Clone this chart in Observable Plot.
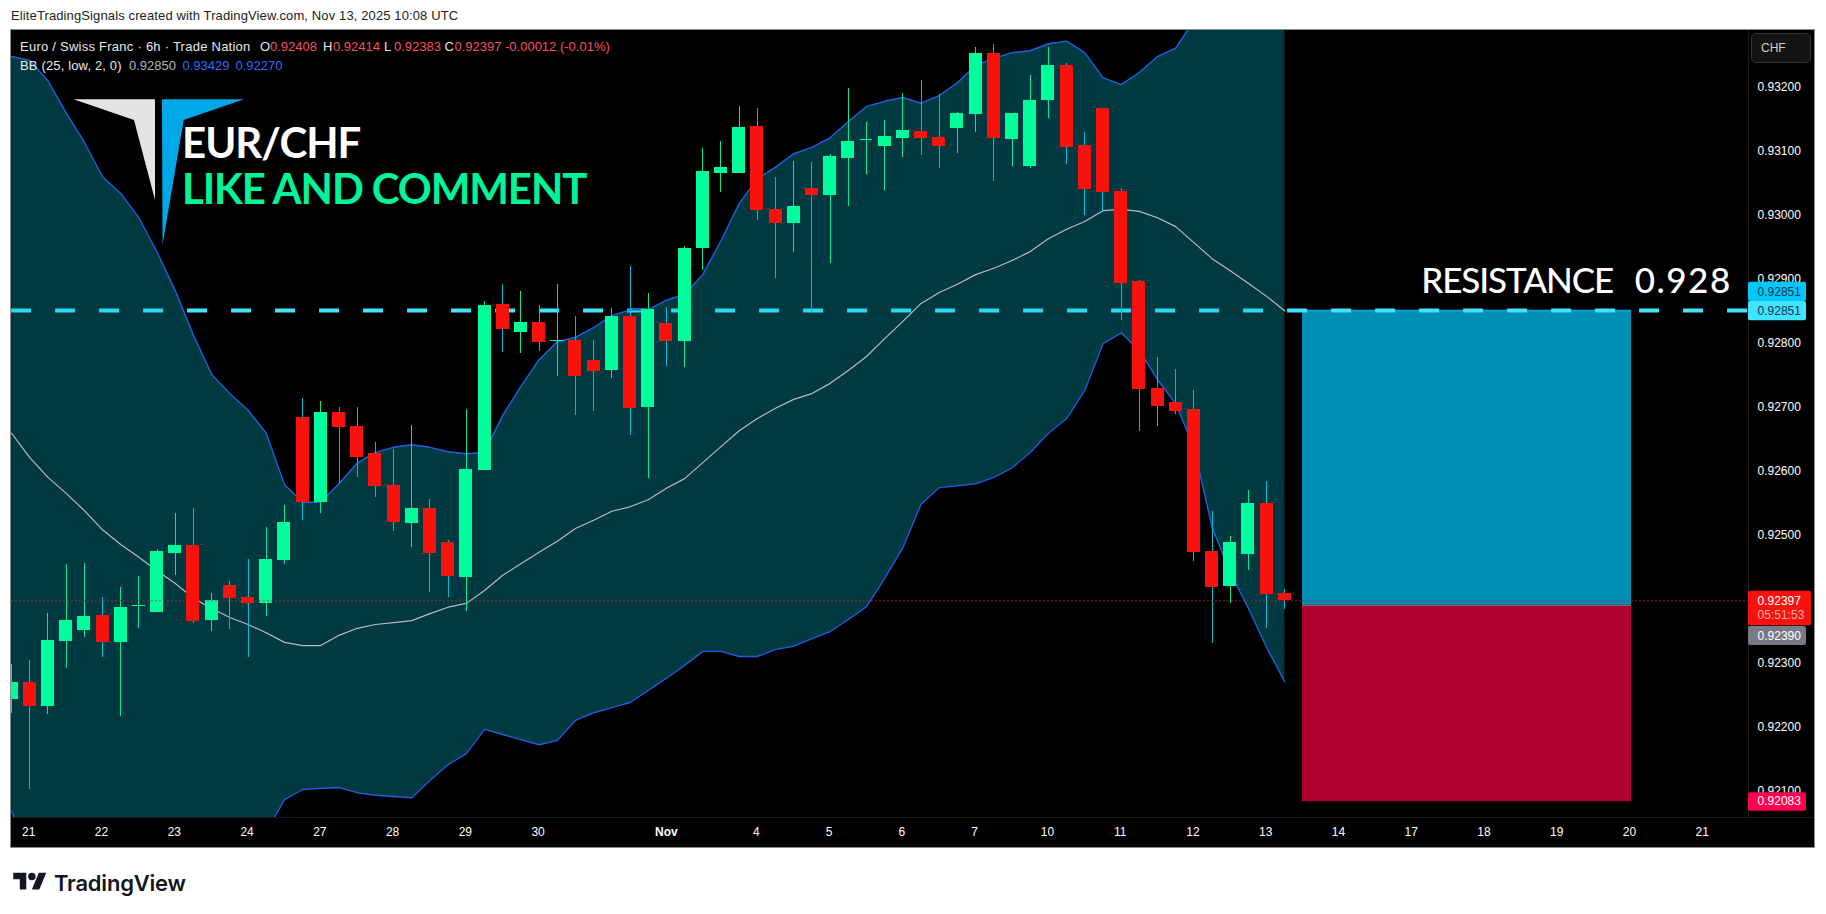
<!DOCTYPE html>
<html>
<head>
<meta charset="utf-8">
<script src="https://cdn.jsdelivr.net/npm/d3@7"></script>
<script src="https://cdn.jsdelivr.net/npm/@observablehq/plot@0.6"></script>
<style>
html,body{margin:0;padding:0;background:#fff;width:1826px;height:914px;overflow:hidden;font-family:"Liberation Sans",sans-serif}
#page{position:relative;width:1826px;height:914px}
.abs{position:absolute;white-space:pre;line-height:1}
#chart{position:absolute;left:11px;top:30px;width:1803px;height:817px;outline:1px solid #8c8c8c}
#chart svg{display:block}
</style>
</head>
<body>
<div id="page">
  <div class="abs" style="left:11px;top:9px;font-size:13px;color:#222;letter-spacing:.12px">EliteTradingSignals created with TradingView.com, Nov 13, 2025 10:08 UTC</div>
  <div id="chart"></div>
  <div id="overlay"></div>
  <svg class="abs" style="left:13px;top:869px" width="34" height="26" viewBox="0 0 36 28"><path fill="#131722" d="M14 22H7V11H0V4h14v18zM28 22h-8l7.500-18h8L28 22z"/><circle fill="#131722" cx="20" cy="8" r="4"/></svg>
  <div class="abs" style="left:54px;top:870px;font:600 22px Inter,sans-serif;letter-spacing:-.2px;color:#131722">TradingView</div>
</div>
<script>
// 6h bars, prices in units of 0.00001 CHF
const opens = [92243,92269,92232,92333,92351,92374,92332,92388,92379,92471,
92484,92366,92421,92402,92393,92460,92684,92551,92691,92670,
92627,92577,92518,92541,92488,92433,92601,92860,92817,92832,
92802,92804,92773,92757,92841,92699,92830,92802,92948,93065,
93065,93139,93009,92987,93042,93031,93089,93117,93107,93120,
93131,93121,93135,93157,93253,93118,93076,93179,93234,93109,
93167,93037,92896,92729,92707,92696,92474,92419,92469,92549,92408];
const highs = [92297,92304,92377,92454,92455,92402,92418,92435,92477,92533,
92541,92408,92427,92462,92512,92546,92713,92709,92699,92699,
92645,92634,92671,92555,92491,92696,92865,92892,92881,92859,
92892,92841,92804,92854,92920,92877,92856,92951,93104,93115,
93170,93167,93059,93084,93082,93095,93198,93145,93148,93190,
93210,93189,93160,93262,93267,93159,93218,93262,93237,93129,
93167,93042,92898,92777,92759,92726,92537,92498,92569,92584,92414];
const lows = [92221,92102,92219,92291,92340,92308,92216,92354,92379,92437,
92362,92349,92352,92308,92372,92454,92522,92533,92580,92590,
92558,92505,92480,92410,92402,92380,92601,92785,92784,92787,
92748,92687,92693,92745,92655,92588,92763,92762,92913,93035,
93065,92992,92901,92942,92846,92924,93013,93064,93039,93090,
93093,93073,93096,93129,93053,93076,93073,93151,93079,92999,
93004,92835,92662,92670,92688,92458,92330,92393,92444,92354,92383];
const closes = [92269,92232,92335,92366,92372,92332,92387,92390,92474,92484,
92365,92398,92401,92393,92462,92519,92551,92691,92668,92621,
92576,92519,92541,92471,92435,92602,92859,92821,92832,92801,
92804,92748,92755,92841,92698,92852,92802,92948,93068,93074,
93137,93007,92987,93013,93031,93092,93115,93119,93123,93132,
93120,93107,93159,93253,93120,93159,93179,93234,93106,93040,
93035,92893,92727,92701,92693,92472,92418,92488,92549,92407,92397];
// Bollinger Bands (25, low, 2, 0)
const bbUpper = [93248,93242,93210,93160,93114,93060,93034,92996,92942,92882,
92812,92751,92721,92695,92659,92579,92551,92551,92580,92612,
92629,92637,92641,92637,92630,92627,92629,92687,92732,92774,
92802,92809,92824,92843,92852,92852,92867,92876,92907,92960,
93018,93057,93075,93096,93106,93121,93146,93170,93178,93184,
93175,93187,93207,93234,93245,93254,93257,93268,93272,93254,
93215,93204,93223,93248,93261,93304,93345,93372,93398,93415,93429];
const bbMiddle = [92659,92621,92590,92565,92538,92508,92485,92465,92444,92424,
92401,92385,92371,92360,92347,92332,92327,92327,92343,92354,
92360,92363,92366,92377,92387,92393,92413,92437,92455,92473,
92490,92510,92523,92537,92544,92555,92573,92588,92613,92638,
92663,92682,92698,92712,92721,92737,92757,92779,92807,92834,
92862,92879,92892,92907,92917,92929,92943,92963,92978,92990,
93007,93009,93006,92996,92982,92957,92932,92913,92893,92873,92850];
const bbLower = [92068,92000,91969,91969,91963,91957,91936,91933,91947,91966,
91989,92019,92021,92025,92036,92086,92102,92104,92105,92097,
92093,92091,92089,92116,92141,92158,92196,92188,92180,92172,
92179,92210,92222,92230,92238,92257,92276,92296,92318,92318,
92310,92310,92321,92326,92338,92349,92368,92388,92432,92480,
92548,92574,92577,92580,92590,92605,92629,92659,92682,92726,
92799,92816,92788,92743,92705,92637,92512,92441,92385,92324,92270];

const priceTicks = [0.921,0.922,0.923,0.924,0.925,0.926,0.927,0.928,0.929,0.930,0.931,0.932];
const dayTickBars = [1,5,9,13,17,21,25,29,41,45,49,53,57,61,65,69,73,77,81,85,89,93];
const dayTickLabels = ["21","22","23","24","27","28","29","30","4","5","6","7","10","11","12","13","14","17","18","19","20","21"];
const monthTickBar = [36];
const monthTickLabel = ["Nov"];

const resistance = 0.92851, lastPrice = 0.92397, entry = 0.92390, target = 0.92083;
const positionBars = [70.97, 89.06];
const priceTags = [
  {label:"0.92851", top:0.92895, bottom:0.92865, mid:0.92880, fill:"#00c8ff", color:"#11324a"},
  {label:"0.92851", top:0.92865, bottom:0.92835, mid:0.92850, fill:"#40e4ff", color:"#11324a"},
  {label:"0.92390", top:0.92357, bottom:0.92327, mid:0.92342, fill:"#787b86", color:"#fff"},
  {label:"0.92083", top:0.92097, bottom:0.92068, mid:0.92083, fill:"#ff0050", color:"#fff"}
];

const GREEN="#00ff9c", RED="#f7120d", WICK_RED="#00bcd4", WICK_GREEN="#00e89a";
const rows = opens.map((o,i)=>({i,open:o/1e5,high:highs[i]/1e5,low:lows[i]/1e5,close:closes[i]/1e5,
  up:closes[i]>=o,u:bbUpper[i]/1e5,m:bbMiddle[i]/1e5,l:bbLower[i]/1e5}));
const up = rows.filter(d=>d.up), down = rows.filter(d=>!d.up);
const axisEnd = 95.49, halfBody = 0.357;
const body = (data,fill)=>Plot.rect(data,{x1:d=>d.i-halfBody,x2:d=>d.i+halfBody,
  y1:d=>Math.min(d.open,d.close),y2:d=>Math.max(d.open,d.close),fill,clip:true,shapeRendering:"crispEdges"});
const wick = (data,stroke)=>Plot.ruleX(data,{x:"i",y1:"low",y2:"high",stroke,strokeWidth:1,clip:true,shapeRendering:"crispEdges"});
const logoFont = {fontFamily:"Lato,sans-serif",fontSize:42,fontWeight:700,textAnchor:"start",lineAnchor:"bottom"};

const chart = Plot.plot({
  width:1803,height:817,marginLeft:0,marginTop:0,marginRight:66,marginBottom:30,
  style:{background:"#000",color:"#fff",fontFamily:"'Liberation Sans',sans-serif",fontSize:"12px"},
  x:{domain:[0,axisEnd],range:[0.1,1737]},
  y:{domain:[0.920582,0.932887],range:[787,0]},
  marks:[
    // separators of the axis panes
    Plot.ruleX([axisEnd],{stroke:"#1c1c1c"}),
    Plot.ruleY([0.920582],{stroke:"#1c1c1c",x1:0,x2:axisEnd+3.6}),
    // axes
    Plot.axisY({anchor:"right",ticks:priceTicks,tickSize:0,tickPadding:9,tickFormat:d=>d.toFixed(5),fill:"#fff",fontSize:12,label:null}),
    Plot.axisX({anchor:"bottom",ticks:dayTickBars,tickSize:0,tickPadding:10,dx:-1,tickFormat:d=>dayTickLabels[dayTickBars.indexOf(d)],fill:"#fff",fontSize:12,label:null}),
    Plot.axisX({anchor:"bottom",ticks:monthTickBar,tickSize:0,tickPadding:10,tickFormat:()=>monthTickLabel[0],fill:"#fff",fontSize:12,fontWeight:"bold",label:null}),
    // position tool
    Plot.rect([0],{x1:positionBars[0],x2:positionBars[1],y1:entry,y2:resistance,fill:"#008fb3"}),
    Plot.rect([0],{x1:positionBars[0],x2:positionBars[1],y1:target,y2:entry,fill:"#b00030"}),
    Plot.ruleY([resistance],{x1:positionBars[0],x2:positionBars[1],stroke:"#00a9d8",strokeWidth:1.5}),
    Plot.ruleY([entry],{x1:positionBars[0],x2:positionBars[1],stroke:"#6b8a9a",strokeWidth:1}),
    // resistance line
    Plot.ruleY([resistance],{stroke:"#40e4ff",strokeWidth:4,strokeDasharray:"20 24",x1:0,x2:axisEnd}),
    // Bollinger band
    Plot.areaY(rows,{x:"i",y1:"l",y2:"u",fill:"#00bcd4",fillOpacity:0.3,clip:true}),
    Plot.line(rows,{x:"i",y:"m",stroke:"#b8bbc2",strokeWidth:1.2,clip:true}),
    Plot.line(rows,{x:"i",y:"u",stroke:"#1f5fe0",strokeWidth:1.4,clip:true}),
    Plot.line(rows,{x:"i",y:"l",stroke:"#1f5fe0",strokeWidth:1.4,clip:true}),
    // candles
    wick(up,WICK_GREEN),wick(down,WICK_RED),
    body(up,GREEN),body(down,RED),
    // last price line
    Plot.ruleY([lastPrice],{stroke:RED,strokeWidth:1,strokeDasharray:"1.5 2.5",x1:0,x2:axisEnd}),
    // annotation
    Plot.text(["RESISTANCE  0.928"],{x:77.5,y:0.92879,text:d=>d,textAnchor:"start",lineAnchor:"bottom",fill:"#fff",
      fontFamily:"Lato,sans-serif",fontSize:35,fontWeight:500}),
    Plot.text(["EUR/CHF"],{...logoFont,x:9.37,y:0.93090,text:d=>d,fill:"#fff"}),
    Plot.text(["LIKE AND COMMENT"],{...logoFont,x:9.37,y:0.93018,text:d=>d,fill:"#00f59b"}),
    // price tags
    Plot.rect(priceTags,{x1:axisEnd,x2:axisEnd+3.19,y1:"bottom",y2:"top",fill:"fill",rx:2}),
    Plot.rect([0],{x1:axisEnd,x2:axisEnd+3.46,y1:0.92358,y2:0.92412,fill:RED,rx:2}),
    Plot.text(priceTags,{x:axisEnd+0.5,y:"mid",text:"label",fill:"color",textAnchor:"start",fontSize:12}),
    Plot.text(["0.92397"],{x:axisEnd+0.5,y:lastPrice,text:d=>d,fill:"#fff",textAnchor:"start",fontSize:12}),
    Plot.text(["05:51:53"],{x:axisEnd+0.5,y:0.92374,text:d=>d,fill:"#ffb0aa",textAnchor:"start",fontSize:12})
  ]
});
document.getElementById("chart").appendChild(chart);

// tighten the large banner lettering to the reference's widths
d3.select(chart).selectAll("text").each(function(){
  const t=this.textContent;
  if(t==="EUR/CHF") this.style.letterSpacing="-1px";
  if(t==="LIKE AND COMMENT") this.style.letterSpacing="-1.1px";
  if(t==="RESISTANCE  0.928"){
    this.style.whiteSpace="pre";
    this.innerHTML='<tspan style="letter-spacing:-1.1px">RESISTANCE</tspan><tspan dx="4">  </tspan><tspan style="letter-spacing:1.5px">0.928</tspan>';
  }
});

// legend, logo and currency button drawn over the chart
const overlay = document.getElementById("overlay");
const put = (text,left,top,color,size=13,spacing=0)=>{
  const el=document.createElement("div");el.className="abs";el.textContent=text;
  el.style.cssText=`left:${left}px;top:${top}px;color:${color};font-size:${size}px;letter-spacing:${spacing}px`;overlay.appendChild(el);
};
const legendRed="#f7525f", legendWhite="#e8e8e8";
put("Euro / Swiss Franc · 6h · Trade Nation",20,40,legendWhite,13,.25);
[["O","0.92408",260],["H","0.92414",323],["L","0.92383",384],["C","0.92397",444.5]].forEach(([k,v,x])=>{
  put(k,x,40,legendWhite);put(v,x+10,40,legendRed);
});
put("-0.00012 (-0.01%)",505,40,legendRed);
put("BB (25, low, 2, 0)",20,59,legendWhite,13,.15);
put("0.92850",129,59,"#b2b5be");
put("0.93429",182.4,59,"#2f6bff");
put("0.92270",235.5,59,"#2f6bff");
overlay.insertAdjacentHTML("beforeend",
 `<svg class="abs" style="left:0;top:0;pointer-events:none" width="400" height="300">
   <polygon fill="#e4e4e4" points="73.5,99.3 155,99.3 155,200 134,120"/>
   <polygon fill="#00a8e8" points="162,99.3 244,99.3 183.7,120 162.500,245"/>
  </svg>
  <div class="abs" style="left:1751px;top:33px;width:60px;height:30px;background:#131313;border:1px solid #333;border-radius:5px;box-sizing:border-box"></div>`);
put("CHF",1761,42,"#cfcfcf",12);
</script>
</body>
</html>
